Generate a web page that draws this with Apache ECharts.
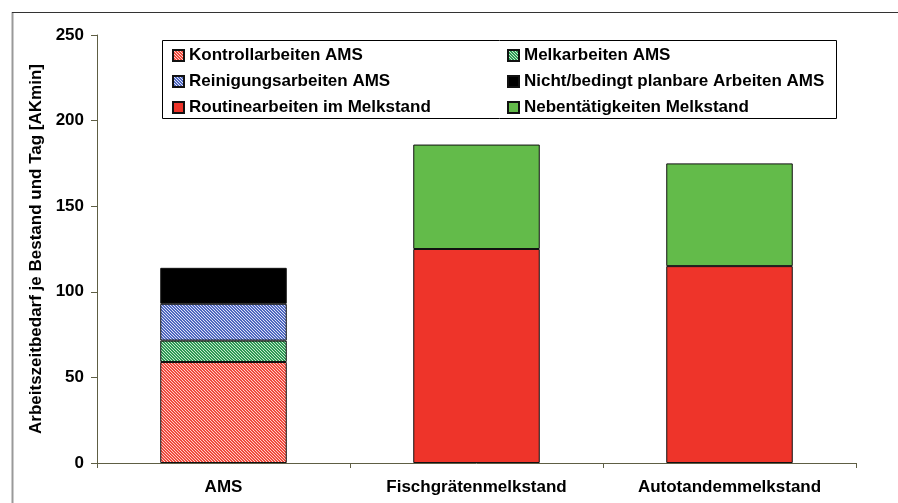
<!DOCTYPE html>
<html>
<head>
<meta charset="utf-8">
<script src="https://cdn.jsdelivr.net/npm/echarts@6/dist/echarts.min.js"></script>
<style>html,body{margin:0;padding:0;background:#fff}#c{width:898px;height:503px}</style>
</head>
<body>
<div id="c"></div>
<script>
const categories = ['AMS', 'Fischgrätenmelkstand', 'Autotandemmelkstand'];
const yTicks = [0, 50, 100, 150, 200, 250];
const yAxisName = 'Arbeitszeitbedarf je Bestand und Tag [AKmin]';
const seriesNames = ['Kontrollarbeiten AMS', 'Melkarbeiten AMS', 'Reinigungsarbeiten AMS',
  'Nicht/bedingt planbare Arbeiten AMS', 'Routinearbeiten im Melkstand', 'Nebentätigkeiten Melkstand'];
const kontroll = [59, null, null];
const melk = [12.5, null, null];
const reinigung = [21.5, null, null];
const nicht = [21, null, null];
const routine = [null, 125, 115];
const neben = [null, 61, 60];

function pattern(bg, fg) {
  const c = document.createElement('canvas');
  c.width = 6; c.height = 6;
  const x = c.getContext('2d');
  x.fillStyle = bg; x.fillRect(0, 0, 6, 6);
  x.fillStyle = fg;
  for (let i = 0; i < 6; i++) {
    x.fillRect(i, i, 1, 1);
    x.fillRect((i + 3) % 6, i, 1, 1);
  }
  x.fillRect(1, 4, 1, 1);
  x.fillRect(4, 1, 1, 1);
  return { image: c, repeat: 'repeat' };
}

const colors = [
  pattern('#f04a3e', '#ffd0c8'),
  pattern('#2e9a55', '#c8ecd0'),
  pattern('#5068c0', '#dfe4f8'),
  '#000000',
  '#ee342a',
  '#63bb4a'
];
const dataArr = [kontroll, melk, reinigung, nicht, routine, neben];

const chart = echarts.init(document.getElementById('c'), null, { renderer: 'canvas' });
const font = 'Liberation Sans, Arial, sans-serif';
const fs = 17;
const series = seriesNames.map((n, i) => ({
  name: n, type: 'bar', stack: 'total', barWidth: '50%',
  data: dataArr[i],
  itemStyle: { color: colors[i], borderColor: '#111', borderWidth: 1 },
  emphasis: { disabled: true }
}));

const legendCommon = {
  orient: 'vertical', itemWidth: 11, itemHeight: 11, itemGap: 9, padding: 0,
  icon: 'rect',
  textStyle: { fontFamily: font, fontWeight: 'bold', fontSize: fs, lineHeight: 17, color: '#000' },
  selectedMode: false
};

chart.setOption({
  animation: false,
  grid: { left: 97, right: 42, top: 35, bottom: 40 },
  legend: [
    Object.assign({ left: 172, top: 47, data: [seriesNames[0], seriesNames[2], seriesNames[4]] }, legendCommon),
    Object.assign({ left: 507, top: 47, data: [seriesNames[1], seriesNames[3], seriesNames[5]] }, legendCommon)
  ],
  xAxis: {
    type: 'category', data: categories,
    axisLine: { lineStyle: { color: '#5e5e44', width: 1 } },
    axisTick: { show: true, length: 5, inside: false, lineStyle: { color: '#5e5e44' } },
    axisLabel: { fontFamily: font, fontWeight: 'bold', fontSize: fs, color: '#000', margin: 16 }
  },
  yAxis: {
    type: 'value', min: yTicks[0], max: yTicks[yTicks.length - 1], interval: 50,
    name: yAxisName, nameLocation: 'middle', nameGap: 47, nameRotate: 90,
    nameTextStyle: { fontFamily: font, fontWeight: 'bold', fontSize: fs, color: '#000' },
    axisLine: { show: true, lineStyle: { color: '#5e5e44', width: 1 } },
    axisTick: { show: true, length: 6, lineStyle: { color: '#5e5e44' } },
    splitLine: { show: false },
    axisLabel: { fontFamily: font, fontWeight: 'bold', fontSize: fs, color: '#000', margin: 13 }
  },
  graphic: [
    { type: 'rect', shape: { x: 162.5, y: 40.5, width: 674, height: 78 }, style: { fill: 'none', stroke: '#000', lineWidth: 1 }, z: -1 },
    { type: 'line', shape: { x1: 12.5, y1: 12, x2: 12.5, y2: 503 }, style: { stroke: '#999', lineWidth: 2 } },
    { type: 'line', shape: { x1: 12, y1: 12.5, x2: 898, y2: 12.5 }, style: { stroke: '#333', lineWidth: 1 } }
  ],
  series: series
});
</script>
</body>
</html>
